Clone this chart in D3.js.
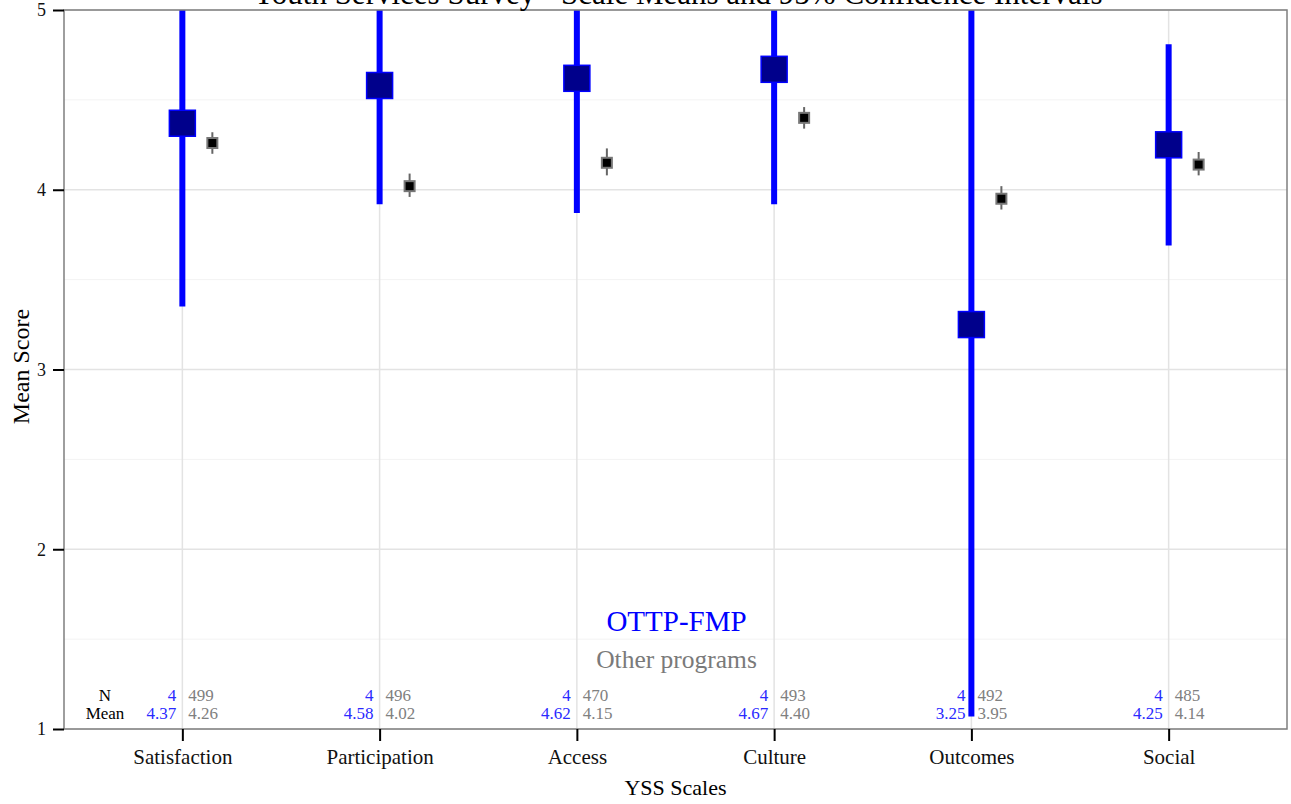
<!DOCTYPE html>
<html>
<head>
<meta charset="utf-8">
<style>
body { margin: 0; background: #ffffff; }
svg { display: block; font-family: "Liberation Serif", "DejaVu Serif", serif; }
</style>
</head>
<body>
<svg id="chart" width="1291" height="804"></svg>
<script src="https://cdn.jsdelivr.net/npm/d3@7"></script>
<script>

// data
var scales = ["Satisfaction", "Participation", "Access", "Culture", "Outcomes", "Social"];

// OTTP-FMP (blue)
var progN = [4, 4, 4, 4, 4, 4];
var progMean = [4.37, 4.58, 4.62, 4.67, 3.25, 4.25];
var progLow = [3.35, 3.92, 3.87, 3.92, 1.07, 3.69];
var progHigh = [5.39, 5.24, 5.37, 5.42, 5.43, 4.81];

// other programs (black)
var otherN = [499, 496, 470, 493, 492, 485];
var otherMean = [4.26, 4.02, 4.15, 4.40, 3.95, 4.14];
var otherLow = [4.20, 3.96, 4.08, 4.34, 3.89, 4.08];
var otherHigh = [4.32, 4.09, 4.23, 4.46, 4.02, 4.21];

var yTicks = [1, 2, 3, 4, 5];
var yMinor = [1.5, 2.5, 3.5, 4.5];

var svg = d3.select("#chart");
var margin = {left: 64, right: 4, top: 10, bottom: 75};
var width = 1291 - margin.left - margin.right,
	height = 804 - margin.top - margin.bottom;

var g = svg.append("g").attr("transform", "translate(" + margin.left + "," + margin.top + ")");

var x = d3.scalePoint()
	.domain(scales)
	.range([0, width])
	.padding(0.6);

var y = d3.scaleLinear()
	.domain([1, 5])
	.range([height, 0]);

svg.append("defs").append("clipPath").attr("id", "panel")
	.append("rect").attr("width", width).attr("height", height);

// grid
g.selectAll(".minor").data(yMinor).enter().append("line")
	.attr("x1", 0).attr("x2", width)
	.attr("y1", function(d) { return y(d); }).attr("y2", function(d) { return y(d); })
	.attr("stroke", "#f3f3f3").attr("stroke-width", 1);

g.selectAll(".major").data(yTicks).enter().append("line")
	.attr("x1", 0).attr("x2", width)
	.attr("y1", function(d) { return y(d); }).attr("y2", function(d) { return y(d); })
	.attr("stroke", "#e3e3e3").attr("stroke-width", 1.5);

g.selectAll(".vgrid").data(scales).enter().append("line")
	.attr("x1", function(d) { return x(d); }).attr("x2", function(d) { return x(d); })
	.attr("y1", 0).attr("y2", height)
	.attr("stroke", "#e3e3e3").attr("stroke-width", 1.5);

var idx = d3.range(scales.length);
var marks = g.append("g").attr("clip-path", "url(#panel)");
var off = 30;

// other programs
marks.selectAll(".oci").data(idx).enter().append("line")
	.attr("x1", function(i) { return x(scales[i]) + off; })
	.attr("x2", function(i) { return x(scales[i]) + off; })
	.attr("y1", function(i) { return y(otherLow[i]); })
	.attr("y2", function(i) { return y(otherHigh[i]); })
	.attr("stroke", "#666").attr("stroke-width", 2);

marks.selectAll(".opt").data(idx).enter().append("rect")
	.attr("x", function(i) { return x(scales[i]) + off - 5; })
	.attr("y", function(i) { return y(otherMean[i]) - 5; })
	.attr("width", 10).attr("height", 10)
	.attr("fill", "#000").attr("stroke", "#777").attr("stroke-width", 2);

// OTTP-FMP
marks.selectAll(".pci").data(idx).enter().append("line")
	.attr("x1", function(i) { return x(scales[i]); })
	.attr("x2", function(i) { return x(scales[i]); })
	.attr("y1", function(i) { return y(progLow[i]); })
	.attr("y2", function(i) { return y(progHigh[i]); })
	.attr("stroke", "#0000ff").attr("stroke-width", 6);

marks.selectAll(".ppt").data(idx).enter().append("rect")
	.attr("x", function(i) { return x(scales[i]) - 13; })
	.attr("y", function(i) { return y(progMean[i]) - 13; })
	.attr("width", 26).attr("height", 26)
	.attr("fill", "#00008b").attr("stroke", "#0000ff").attr("stroke-width", 1.5);

// N / Mean table at the bottom
var rowN = height - 28, rowM = height - 10;
g.append("text").attr("x", 41).attr("y", rowN).attr("text-anchor", "middle")
	.attr("font-size", 17).attr("fill", "#000").text("N");
g.append("text").attr("x", 41).attr("y", rowM).attr("text-anchor", "middle")
	.attr("font-size", 17).attr("fill", "#000").text("Mean");

var tab = g.selectAll(".tab").data(idx).enter().append("g")
	.attr("transform", function(i) { return "translate(" + x(scales[i]) + ",0)"; })
	.attr("font-size", 17);
tab.append("text").attr("x", -6).attr("y", rowN).attr("text-anchor", "end").attr("fill", "#2a2aff")
	.text(function(i) { return progN[i]; });
tab.append("text").attr("x", -6).attr("y", rowM).attr("text-anchor", "end").attr("fill", "#2a2aff")
	.text(function(i) { return progMean[i].toFixed(2); });
tab.append("text").attr("x", 6).attr("y", rowN).attr("fill", "#808080")
	.text(function(i) { return otherN[i]; });
tab.append("text").attr("x", 6).attr("y", rowM).attr("fill", "#808080")
	.text(function(i) { return otherMean[i].toFixed(2); });

// legend text
g.append("text").attr("x", width / 2 + 1).attr("y", height - 98).attr("text-anchor", "middle")
	.attr("font-size", 29).attr("fill", "#0000ff").text("OTTP-FMP");
g.append("text").attr("x", width / 2 + 1).attr("y", height - 61).attr("text-anchor", "middle")
	.attr("font-size", 25.5).attr("fill", "#7a7a7a").text("Other programs");

// border
g.append("rect").attr("width", width).attr("height", height)
	.attr("fill", "none").attr("stroke", "#7f7f7f").attr("stroke-width", 1.5);

// axes
var yAxis = g.append("g").call(d3.axisLeft(y).tickValues(yTicks).tickSize(11).tickPadding(7).tickFormat(d3.format("d")));
var xAxis = g.append("g").attr("transform", "translate(0," + height + ")")
	.call(d3.axisBottom(x).tickSize(12).tickPadding(8));
[yAxis, xAxis].forEach(function(a) {
	a.select(".domain").remove();
	a.selectAll(".tick line").attr("stroke", "#000").attr("stroke-width", 2);
	a.selectAll(".tick text").attr("fill", "#111").attr("font-family", "Liberation Serif, serif");
});
yAxis.selectAll(".tick text").attr("font-size", 18);
xAxis.selectAll(".tick text").attr("font-size", 21);

// titles (the title sits partly above the page, as in the original)
svg.append("text").attr("x", margin.left + width / 2 + 2).attr("y", 4).attr("text-anchor", "middle")
	.attr("font-size", 31).attr("fill", "#000")
	.text("Youth Services Survey - Scale Means and 95% Confidence Intervals");

svg.append("text").attr("x", margin.left + width / 2).attr("y", 795).attr("text-anchor", "middle")
	.attr("font-size", 22).attr("fill", "#000").text("YSS Scales");

svg.append("text").attr("transform", "translate(29," + (margin.top + height / 2 - 3) + ") rotate(-90)")
	.attr("text-anchor", "middle").attr("font-size", 24).attr("fill", "#000").text("Mean Score");

</script>
</body>
</html>
